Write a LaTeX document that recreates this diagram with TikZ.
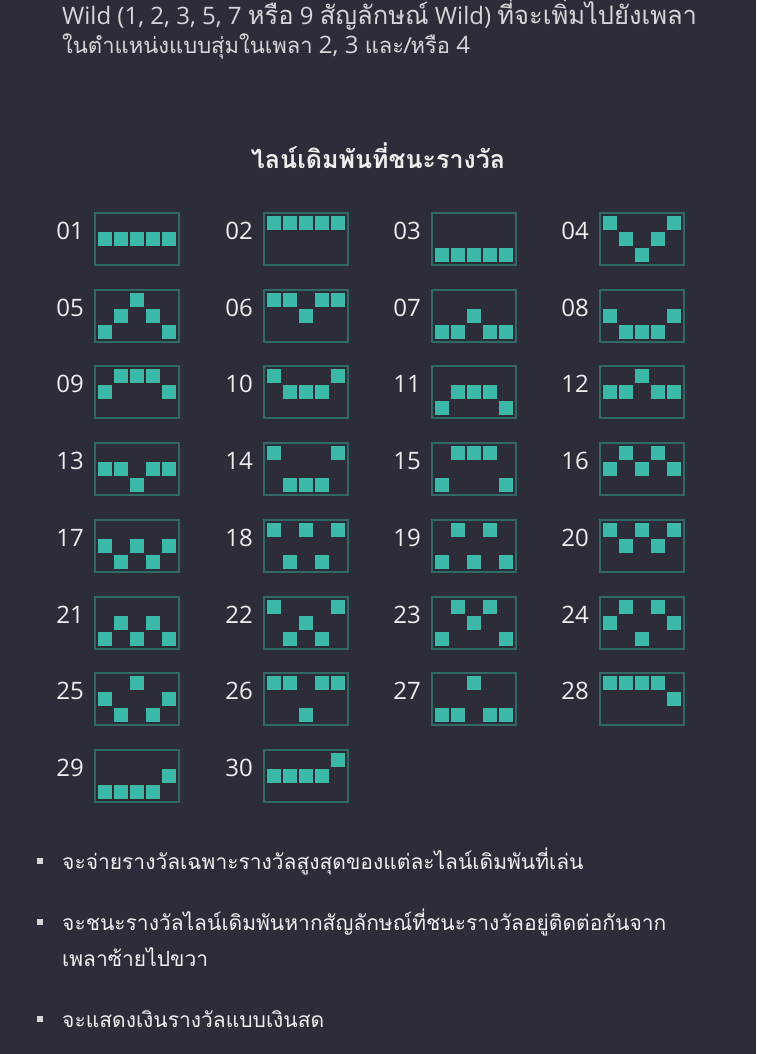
\documentclass[tikz,border=0pt]{standalone}
\usepackage{fontspec}
\setmainfont{Open Sans}
\newfontfamily\thaifont[Script=Thai]{Loma}
\usepackage{xcolor}
\definecolor{colBg}{HTML}{2D2D39}
\definecolor{colCell}{HTML}{3CB9A8}
\definecolor{colFrame}{HTML}{2F6A67}
\definecolor{colText}{HTML}{EEEEEE}
\definecolor{colDim}{HTML}{D6D6D8}
\usetikzlibrary{positioning, calc}

% one payline: label, x, y (top left of the frame), row of each reel (0 = top)
\newcommand{\payline}[4]{%
	\node[lbox, anchor=north west] (b#1) at (#2,#3) {};
	\node[lnum, anchor=base east] (n#1) at ([xshift=-11pt, yshift=-26pt]b#1.north west) {#1};
	\foreach \r [count=\c from 0] in {#4}
		\node[cell, anchor=north west] (c#1-\c) at ([xshift={(3+16*\c)*1pt}, yshift={-(3+16*\r)*1pt}]b#1.north west) {};
}
% Thai words inside the header lines
\newcommand{\thw}[2]{{\thaifont\fontsize{#1}{28pt}\selectfont #2}}

\begin{document}
\begin{tikzpicture}[
		x=1pt, y=-1pt,
		lbox/.style={draw=colFrame, line width=1.3pt, minimum width=84pt, minimum height=52pt, inner sep=0pt, outer sep=0pt},
		cell/.style={fill=colCell, minimum size=14pt, inner sep=0pt, outer sep=0pt},
		lnum/.style={text=colText, inner sep=0pt, font=\fontsize{24pt}{28pt}\selectfont},
		para/.style={text=colDim, inner sep=0pt, font=\fontsize{24pt}{28pt}\selectfont},
		note/.style={text=colText, inner sep=0pt, font=\thaifont\fontsize{21pt}{25pt}\selectfont},
		dot/.style={fill=colDim, minimum size=6pt, inner sep=0pt}
	]
		\fill[colBg] (0,0) rectangle (756,1054);
		\useasboundingbox (0,0) rectangle (756,1054);

		% ===== Header text (cut at the top) =====
		\node[para, anchor=west] (h1) at (62,14) {Wild (1, 2, 3, 5, 7 \thw{25.5pt}{หรือ} 9 \thw{25.5pt}{สัญลักษณ์} Wild) \thw{25.5pt}{ที่จะเพิ่มไปยังเพลา}};
		\node[para, anchor=west] (h2) at (62,46) {\thw{22pt}{ในตำแหน่งแบบสุ่มในเพลา} 2, 3 \thw{22pt}{และ/หรือ} 4};

		% ===== Title =====
		\node[text=colText, font=\thaifont\bfseries\fontsize{25pt}{29pt}\selectfont] (title) at (378,156) {ไลน์เดิมพันที่ชนะรางวัล};

		% ===== Paylines =====
		\payline{01}{95}{213}{1,1,1,1,1}
		\payline{02}{264}{213}{0,0,0,0,0}
		\payline{03}{432}{213}{2,2,2,2,2}
		\payline{04}{600}{213}{0,1,2,1,0}

		\payline{05}{95}{290}{2,1,0,1,2}
		\payline{06}{264}{290}{0,0,1,0,0}
		\payline{07}{432}{290}{2,2,1,2,2}
		\payline{08}{600}{290}{1,2,2,2,1}

		\payline{09}{95}{366}{1,0,0,0,1}
		\payline{10}{264}{366}{0,1,1,1,0}
		\payline{11}{432}{366}{2,1,1,1,2}
		\payline{12}{600}{366}{1,1,0,1,1}

		\payline{13}{95}{443}{1,1,2,1,1}
		\payline{14}{264}{443}{0,2,2,2,0}
		\payline{15}{432}{443}{2,0,0,0,2}
		\payline{16}{600}{443}{1,0,1,0,1}

		\payline{17}{95}{520}{1,2,1,2,1}
		\payline{18}{264}{520}{0,2,0,2,0}
		\payline{19}{432}{520}{2,0,2,0,2}
		\payline{20}{600}{520}{0,1,0,1,0}

		\payline{21}{95}{597}{2,1,2,1,2}
		\payline{22}{264}{597}{0,2,1,2,0}
		\payline{23}{432}{597}{2,0,1,0,2}
		\payline{24}{600}{597}{1,0,2,0,1}

		\payline{25}{95}{673}{1,2,0,2,1}
		\payline{26}{264}{673}{0,0,2,0,0}
		\payline{27}{432}{673}{2,2,0,2,2}
		\payline{28}{600}{673}{0,0,0,0,1}

		\payline{29}{95}{750}{2,2,2,2,1}
		\payline{30}{264}{750}{1,1,1,1,0}

		% ===== Notes =====
		\node[dot] (d1) at (40,861) {};
		\node[note, anchor=west] (t1) at (62,861) {จะจ่ายรางวัลเฉพาะรางวัลสูงสุดของแต่ละไลน์เดิมพันที่เล่น};
		\node[dot] (d2) at (40,922) {};
		\node[note, anchor=west] (t2) at (62,922) {จะชนะรางวัลไลน์เดิมพันหากสัญลักษณ์ที่ชนะรางวัลอยู่ติดต่อกันจาก};
		\node[note, anchor=west] (t3) at (62,957) {เพลาซ้ายไปขวา};
		\node[dot] (d3) at (40,1019) {};
		\node[note, anchor=west] (t4) at (62,1019) {จะแสดงเงินรางวัลแบบเงินสด};
\end{tikzpicture}
\end{document}
